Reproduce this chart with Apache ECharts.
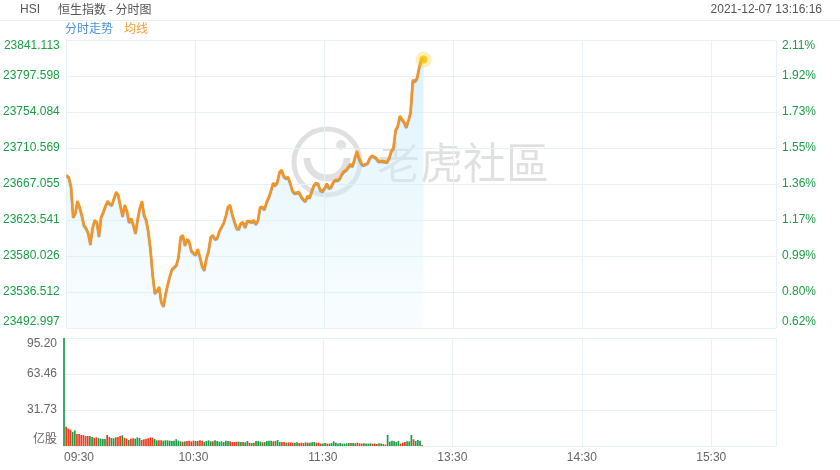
<!DOCTYPE html>
<html><head><meta charset="utf-8">
<script src="https://cdn.jsdelivr.net/npm/echarts@6/dist/echarts.min.js"></script>
<style>html,body{margin:0;padding:0;background:#fff}#c{width:840px;height:470px}</style>
</head><body><div id="c"></div>
<script>
// ---- data ----
const priceMin = 23492.997;
const priceMax = 23841.113;
const priceTicks = ['23492.997','23536.512','23580.026','23623.541','23667.055','23710.569','23754.084','23797.598','23841.113'];
const pctTicks = ['0.62%','0.80%','0.99%','1.17%','1.36%','1.55%','1.73%','1.92%','2.11%'];
const volMax = 95.196;
const volTicks = ['亿股','31.73','63.46','95.20'];
const timeTicks = ['09:30','10:30','11:30','13:30','14:30','15:30',''];
const totalMinutes = 330;

const prices = [
23677.9,23674.9,23663.8,23627.2,23632.0,23646.5,23639.3,23629.6,23617.5,23613.9,
23607.8,23594.5,23613.9,23623.5,23621.1,23604.2,23627.2,23633.2,23640.5,23646.5,
23643.5,23641.7,23650.1,23657.4,23653.8,23640.5,23628.4,23641.7,23634.4,23621.1,
23625.4,23617.5,23607.8,23624.8,23638.0,23646.5,23629.6,23623.5,23609.0,23587.3,
23557.1,23535.3,23538.3,23542.6,23524.4,23519.6,23534.1,23546.2,23555.9,23564.3,
23566.7,23569.1,23578.8,23603.0,23605.4,23593.3,23600.6,23597.6,23586.1,23583.7,
23581.8,23588.5,23578.8,23567.9,23563.1,23577.6,23586.1,23603.0,23605.4,23600.6,
23601.8,23610.2,23615.1,23619.9,23628.4,23639.3,23641.7,23630.8,23622.3,23613.9,
23612.7,23619.9,23621.1,23615.1,23622.3,23622.3,23621.1,23623.5,23618.7,23623.5,
23639.3,23639.3,23636.8,23645.3,23651.3,23658.6,23668.3,23665.8,23669.5,23681.6,
23684.0,23676.7,23674.3,23675.5,23668.3,23659.2,23656.2,23656.8,23657.4,23652.6,
23648.9,23646.5,23652.6,23650.7,23658.6,23665.8,23668.3,23667.1,23659.8,23658.6,
23662.2,23667.7,23662.2,23663.4,23669.5,23671.9,23671.9,23673.7,23679.1,23682.8,
23684.0,23687.6,23691.2,23688.8,23698.5,23706.9,23698.5,23692.4,23690.0,23691.2,
23692.4,23698.5,23701.5,23700.3,23698.5,23694.9,23694.9,23694.9,23694.3,23693.6,
23698.5,23706.9,23710.6,23732.3,23737.2,23749.3,23745.6,23742.0,23736.0,23744.4,
23754.1,23792.8,23791.6,23795.2,23808.5,23818.1,23817.5
];

const volumes = [
95.196,
17.0,15.3,14.4,12.3,13.8,10.6,10.6,9.7,9.7,8.8,
8.8,8.8,7.9,7.3,7.6,7.0,6.5,6.2,6.2,9.7,
7.9,7.0,6.8,7.6,7.9,8.8,9.4,7.3,6.5,5.3,
6.5,6.8,6.5,7.6,7.0,5.3,5.9,6.5,6.8,7.6,
7.3,6.2,5.0,5.0,5.0,4.7,5.0,5.0,4.7,4.4,
4.7,5.9,4.7,4.1,3.8,4.1,4.4,4.7,4.1,4.7,
4.4,4.4,5.0,4.7,3.5,4.4,5.0,4.1,4.1,5.0,
4.4,3.8,4.1,3.5,4.7,4.4,4.1,3.5,3.5,3.8,
3.8,3.5,3.5,3.2,4.4,2.9,2.6,2.9,4.4,4.4,
3.8,3.2,3.5,4.4,4.7,4.7,4.1,4.4,5.3,3.5,
3.5,3.5,2.9,3.2,3.2,2.9,2.9,3.2,2.6,2.9,
2.6,3.2,2.9,2.9,3.2,3.5,2.9,2.9,2.1,2.1,
2.6,2.1,2.1,2.6,4.1,2.9,2.1,2.6,2.1,2.1,
2.4,2.6,2.6,2.6,2.4,2.9,2.4,2.1,2.4,2.1,
2.1,2.4,2.1,2.1,1.8,2.4,2.1,1.8,1.2,9.7,
3.8,4.7,4.1,3.5,4.4,2.1,2.9,3.5,4.1,4.1,
9.7,5.9,4.4,5.3,4.7,0.9
];

// ---- styles ----
const UP = '#1a9e45', DOWN = '#f23a1c';
const gridColor = '#e6f2f8';
const FONT = "'Liberation Sans', Arial, 'Noto Sans CJK SC', sans-serif";

const priceData = prices.map((p, i) => [i, p]);
const volData = volumes.map((v, i) => ({
  value: [i, v],
  itemStyle: { color: (i === 0 || prices[i] >= prices[i - 1]) ? UP : DOWN }
}));
const lastPoint = [prices.length - 1, prices[prices.length - 1]];

const chart = echarts.init(document.getElementById('c'), null, { renderer: 'canvas' });
chart.setOption({
  animation: false,
  backgroundColor: '#fff',
  textStyle: { fontFamily: FONT },
  grid: [
    { left: 64, right: 64, top: 40, height: 288 },
    { left: 64, right: 64, top: 338, height: 108 }
  ],
  xAxis: [
    { gridIndex: 0, type: 'value', min: 0, max: totalMinutes, interval: 60,
      axisLine: { show: false }, axisTick: { show: false }, axisLabel: { show: false },
      splitLine: { show: true, lineStyle: { color: gridColor, width: 1 } } },
    { gridIndex: 1, type: 'value', min: 0, max: totalMinutes, interval: 60,
      axisLine: { show: false }, axisTick: { show: false },
      axisLabel: { show: true, color: '#666', fontSize: 12, fontFamily: FONT, margin: 6,
        formatter: (v, i) => timeTicks[i] || '', alignMinLabel: 'left' },
      splitLine: { show: true, lineStyle: { color: gridColor, width: 1 } } }
  ],
  yAxis: [
    { gridIndex: 0, type: 'value', position: 'left', min: priceMin, max: priceMax,
      interval: (priceMax - priceMin) / 8,
      axisLine: { show: true, lineStyle: { color: gridColor } }, axisTick: { show: false },
      axisLabel: { color: '#1a9e45', fontSize: 12, fontFamily: FONT, margin: 7,
        formatter: (v, i) => priceTicks[i] || '',
        verticalAlignMinLabel: 'bottom', verticalAlignMaxLabel: 'top' },
      splitLine: { show: true, lineStyle: { color: gridColor } } },
    { gridIndex: 0, type: 'value', position: 'right', min: priceMin, max: priceMax,
      interval: (priceMax - priceMin) / 8,
      axisLine: { show: true, lineStyle: { color: gridColor } }, axisTick: { show: false },
      axisLabel: { color: '#1a9e45', fontSize: 12, fontFamily: FONT, margin: 6,
        formatter: (v, i) => pctTicks[i] || '',
        verticalAlignMinLabel: 'bottom', verticalAlignMaxLabel: 'top' },
      splitLine: { show: false } },
    { gridIndex: 1, type: 'value', position: 'left', min: 0, max: volMax, interval: volMax / 3,
      axisLine: { show: true, lineStyle: { color: gridColor } }, axisTick: { show: false },
      axisLabel: { color: '#666', fontSize: 12, fontFamily: FONT, margin: 7,
        formatter: (v, i) => volTicks[i] || '',
        verticalAlignMinLabel: 'bottom', verticalAlignMaxLabel: 'top' },
      splitLine: { show: true, lineStyle: { color: gridColor } } }
  ],
  graphic: [
    { type: 'line', shape: { x1: 0, y1: 20.5, x2: 840, y2: 20.5 }, style: { stroke: gridColor, lineWidth: 1 }, silent: true },
    { type: 'text', left: 20, top: 4, style: { text: 'HSI', fill: '#555', font: "12px 'Liberation Sans', Arial, sans-serif" } },
    { type: 'text', left: 58, top: 3, style: { text: '恒生指数 - 分时图', fill: '#555', font: "12px 'Noto Sans CJK SC', sans-serif" } },
    { type: 'text', right: 18, top: 4, style: { text: '2021-12-07 13:16:16', fill: '#555', font: "12px 'Liberation Sans', Arial, sans-serif" } },
    { type: 'text', left: 65, top: 22, style: { text: '分时走势', fill: '#4a90d9', font: "12px 'Noto Sans CJK SC', sans-serif" } },
    { type: 'text', left: 124, top: 22, style: { text: '均线', fill: '#f5a033', font: "12px 'Noto Sans CJK SC', sans-serif" } },
    // watermark
    { type: 'group', silent: true, z: 1, children: [
      { type: 'circle', shape: { cx: 327, cy: 162, r: 33 }, style: { fill: 'none', stroke: 'rgba(0,0,0,0.12)', lineWidth: 5 } },
      { type: 'arc', shape: { cx: 327, cy: 158, r: 20, startAngle: 0, endAngle: Math.PI }, style: { fill: 'none', stroke: 'rgba(0,0,0,0.12)', lineWidth: 7 } },
      { type: 'circle', shape: { cx: 341, cy: 145, r: 5 }, style: { fill: 'rgba(0,0,0,0.11)' } },
      { type: 'text', x: 377, y: 163, style: { text: '老虎社區', fill: 'rgba(0,0,0,0.12)', font: "43px 'Noto Sans CJK SC', sans-serif", textVerticalAlign: 'middle' } }
    ] }
  ],
  series: [
    { name: '分时走势', type: 'line', xAxisIndex: 0, yAxisIndex: 0, data: priceData,
      showSymbol: false, symbol: 'none', smooth: false, z: 3,
      lineStyle: { color: '#f7941d', width: 2.4, shadowColor: 'rgba(0,0,0,0.4)', shadowBlur: 1, shadowOffsetY: 1 },
      areaStyle: { origin: 'start', color: new echarts.graphic.LinearGradient(0, 0, 0, 1, [
        { offset: 0, color: 'rgba(195,233,250,0.85)' },
        { offset: 1, color: 'rgba(225,244,252,0.3)' }
      ]) } },
    { name: 'halo', type: 'scatter', xAxisIndex: 0, yAxisIndex: 0, data: [lastPoint],
      symbolSize: 16, itemStyle: { color: 'rgba(250,205,30,0.38)' }, z: 4, silent: true },
    { name: 'dot', type: 'scatter', xAxisIndex: 0, yAxisIndex: 0, data: [lastPoint],
      symbolSize: 8, itemStyle: { color: '#f8c300' }, z: 5, silent: true },
    { name: '成交量', type: 'bar', xAxisIndex: 1, yAxisIndex: 2, data: volData,
      barWidth: 1.7, clip: false }
  ]
});
</script></body></html>
